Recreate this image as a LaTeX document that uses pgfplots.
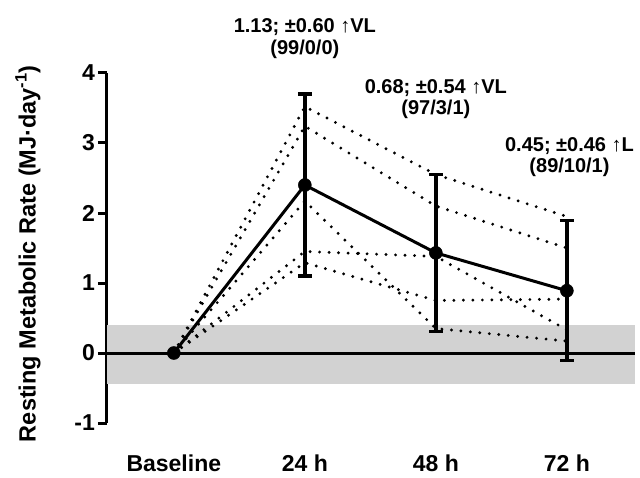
\documentclass[border=0pt]{standalone}
\usepackage{fontspec}
\setmainfont{Liberation Sans}
\usepackage{pgfplots}
\pgfplotsset{compat=1.18}
\begin{document}
\begin{tikzpicture}
\path[use as bounding box] (-107pt,-54pt) rectangle (533pt,423pt);
\begin{axis}[
  scale only axis, width=528pt, height=350pt,
  xmin=-0.51, xmax=3.52, ymin=-1, ymax=4,
  axis y line*=left, axis x line*=bottom,
  x axis line style={draw=none},
  y axis line style={line width=3pt},
  xtick={0,1,2,3}, xticklabels={Baseline,24 h,48 h,72 h},
  x tick style={draw=none},
  ytick={-1,0,1,2,3,4}, yticklabels={-1,0,1,2,3,4},
  tick align=outside, major tick length=9pt,
  y tick style={line width=3pt, black},
  tick label style={font=\fontsize{23}{27}\selectfont\bfseries},
  yticklabel style={inner sep=3pt},
  xticklabel style={anchor=base, inner sep=1pt, yshift=-39pt},
  ylabel={Resting Metabolic Rate (MJ·day\textsuperscript{-1})},
  ylabel style={font=\fontsize{23.5}{27}\selectfont\bfseries, at={(axis description cs:-0.1496,0.484)}, anchor=center},
  clip=false,
]
% band
\addplot[fill=gray!35, draw=none] coordinates {(-0.51,-0.44) (3.52,-0.44) (3.52,0.40) (-0.51,0.40)} -- cycle;
\addplot[black, line width=3pt] coordinates {(-0.51,0) (3.52,0)};

% individual responses
\addplot[black, line width=3.2pt, line cap=round, dash pattern=on 0pt off 9.5pt] coordinates {(0,0) (1,3.52) (2,2.55) (3,1.95)};
\addplot[black, line width=3.2pt, line cap=round, dash pattern=on 0pt off 9.5pt] coordinates {(0,0) (1,3.24) (2,2.10) (3,1.50)};
\addplot[black, line width=3.2pt, line cap=round, dash pattern=on 0pt off 9.5pt] coordinates {(0,0) (1,2.17) (2,0.35) (3,0.17)};
\addplot[black, line width=3.2pt, line cap=round, dash pattern=on 0pt off 9.5pt] coordinates {(0,0) (1,1.45) (2,1.38) (3,0.33)};
\addplot[black, line width=3.2pt, line cap=round, dash pattern=on 0pt off 9.5pt] coordinates {(0,0) (1,1.29) (2,0.75) (3,0.77)};

% mean with SD
\addplot[draw=none, mark=none, error bars/.cd, y dir=both, y explicit,
  error bar style={draw=black, line width=3.5pt},
  error mark options={draw=black, rotate=90, mark size=7pt, line width=3.5pt}]
  coordinates {(1,2.40) +- (0,1.30) (2,1.43) +- (0,1.12) (3,0.89) +- (0,1.00)};
\addplot[black, line width=3pt, mark=*, mark size=6.5pt, mark options={fill=black, line width=0.5pt}]
  coordinates {(0,0) (1,2.40) (2,1.43) (3,0.89)};

\node[font=\fontsize{20}{24}\selectfont\bfseries, anchor=base] at (axis cs:1.0,4.576) {1.13; ±0.60 ↑VL};
\node[font=\fontsize{20}{24}\selectfont\bfseries, anchor=base] at (axis cs:1.0,4.27) {(99/0/0)};
\node[font=\fontsize{20}{24}\selectfont\bfseries, anchor=base] at (axis cs:2.0,3.705) {0.68; ±0.54 ↑VL};
\node[font=\fontsize{20}{24}\selectfont\bfseries, anchor=base] at (axis cs:2.0,3.405) {(97/3/1)};
\node[font=\fontsize{20}{24}\selectfont\bfseries, anchor=base] at (axis cs:3.02,2.876) {0.45; ±0.46 ↑L};
\node[font=\fontsize{20}{24}\selectfont\bfseries, anchor=base] at (axis cs:3.02,2.576) {(89/10/1)};
\end{axis}
\end{tikzpicture}
\end{document}
